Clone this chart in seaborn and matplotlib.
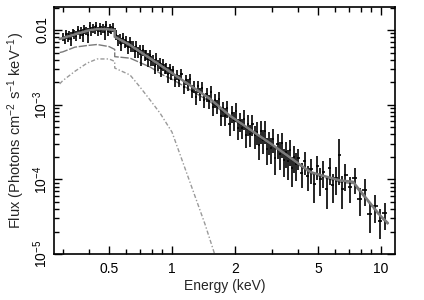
import numpy as np
import pandas as pd
import matplotlib
matplotlib.use("Agg")
import matplotlib.pyplot as plt
import seaborn as sns
from matplotlib.ticker import FixedLocator, FixedFormatter, NullFormatter

# observed spectrum, flux in units of 1e-4 photons cm^-2 s^-1 keV^-1
energy = [
    # soft band
    0.300, 0.306, 0.311, 0.317, 0.323, 0.329, 0.335, 0.341, 0.348, 0.354,
    0.361, 0.367, 0.374, 0.381, 0.388, 0.396, 0.403, 0.410, 0.418, 0.426,
    0.434, 0.442, 0.450, 0.458, 0.467, 0.476, 0.485, 0.494, 0.503, 0.512,
    0.522, 0.531, 0.541, 0.551, 0.562, 0.572, 0.583, 0.593, 0.605, 0.616,
    0.627, 0.639, 0.651, 0.663, 0.675, 0.688, 0.701, 0.714, 0.727, 0.740,
    0.754, 0.768, 0.782, 0.797, 0.812, 0.827, 0.842, 0.858, 0.874, 0.890,
    0.907, 0.923, 0.941, 0.958, 0.976, 0.994,
    # 1-4 keV
    1.013, 1.036, 1.060, 1.085, 1.110, 1.136, 1.163, 1.190, 1.217, 1.246,
    1.275, 1.304, 1.335, 1.366, 1.398, 1.430, 1.463, 1.497, 1.532, 1.568,
    1.604, 1.642, 1.680, 1.719, 1.759, 1.800, 1.842, 1.885, 1.929, 1.974,
    2.020, 2.067, 2.115, 2.164, 2.214, 2.266, 2.319, 2.373, 2.428, 2.484,
    2.542, 2.602, 2.662, 2.724, 2.787, 2.852, 2.919, 2.987, 3.056, 3.127,
    3.200, 3.275, 3.351, 3.429, 3.509, 3.591, 3.674, 3.760, 3.847, 3.937,
    # hard band
    4.03, 4.17, 4.32, 4.47, 4.63, 4.79, 4.96, 5.13, 5.31, 5.50,
    5.69, 5.89, 6.10, 6.31, 6.53, 6.76, 7.10, 7.50, 7.93, 8.38,
    8.86, 9.37, 9.90, 10.45,
]
flux = [
    81.9, 74.4, 87.7, 80.2, 84.8, 76.8, 91.8, 87.2, 84.2, 99.7,
    88.4, 96.2, 86.3, 102.8, 97.6, 86.3, 112.3, 96.1, 105.9, 100.7,
    112.6, 95.8, 109.2, 99.9, 106.1, 92.7, 115.4, 97.4, 106.1, 101.4,
    108.0, 94.3, 86.1, 73.7, 76.3, 64.8, 78.6, 66.8, 70.4, 60.0,
    68.6, 60.8, 61.1, 51.6, 60.9, 50.8, 54.8, 43.4, 54.0, 45.7,
    46.8, 40.5, 45.8, 39.0, 39.6, 33.4, 41.4, 34.3, 35.9, 30.0,
    34.5, 30.5, 30.7, 25.6, 30.6, 25.7,
    29.0, 21.3, 25.1, 21.1, 25.7, 17.1, 21.7, 18.5, 22.3, 15.4,
    17.4, 12.6, 17.6, 14.0, 16.9, 11.5, 13.8, 11.2, 14.8, 9.25,
    11.6, 9.59, 12.1, 7.16, 8.90, 7.14, 9.04, 5.46, 7.68, 6.17,
    8.16, 4.87, 6.10, 4.95, 6.48, 3.88, 5.49, 4.01, 5.60, 3.88,
    4.36, 2.86, 4.48, 3.36, 4.51, 2.56, 3.19, 2.61, 3.52, 1.95,
    3.00, 2.22, 3.04, 1.82, 2.30, 1.74, 2.47, 1.40, 2.00, 1.59,
    1.92, 1.22, 1.75, 1.11, 1.38, 0.87, 1.52, 1.00, 1.27, 0.75,
    1.40, 0.83, 1.04, 2.13, 0.75, 1.14, 0.79, 1.04, 0.54, 0.72,
    0.34, 0.44, 0.28, 0.35,
]
flux_err = [
    10, 10, 12, 10, 12, 16, 12, 12, 12, 13,
    12, 13, 17, 13, 13, 19, 15, 13, 15, 13,
    15, 13, 15, 13, 15, 19, 15, 13, 15, 13,
    15, 13, 13, 12, 12, 13, 13, 10, 12, 12,
    12, 10, 10, 10, 10, 9, 9, 10, 9, 7.5,
    7.5, 9, 7.5, 6.5, 6.5, 7.5, 7.5, 6, 6, 6.5,
    6, 5, 5, 6, 5, 4.5,
    4.4, 3.8, 4.0, 3.6, 4.1, 3.3, 3.6, 3.3, 3.8, 3.0,
    3.1, 2.8, 3.1, 2.8, 3.1, 2.5, 2.8, 2.4, 2.9, 2.1,
    2.5, 2.1, 2.6, 1.9, 2.1, 1.9, 2.3, 1.6, 2.0, 1.75,
    2.25, 1.5, 1.75, 1.5, 1.9, 1.25, 1.7, 1.3, 1.75, 1.3,
    1.45, 1.05, 1.5, 1.2, 1.5, 1.0, 1.1, 1.0, 1.25, 0.8,
    1.1, 0.9, 1.1, 0.75, 0.9, 0.75, 0.95, 0.62, 0.78, 0.65,
    0.6, 0.45, 0.6, 0.42, 0.5, 0.38, 0.55, 0.4, 0.5, 0.35,
    0.55, 0.35, 0.42, 1.3, 0.35, 0.45, 0.3, 0.4, 0.22, 0.28,
    0.15, 0.18, 0.12, 0.14,
]

# best-fit model and its two components (same units)
model_e = [0.29, 0.30, 0.35, 0.40, 0.44, 0.48, 0.532, 0.532, 0.63, 0.905,
           1.0, 1.52, 1.895, 3.0, 4.58, 5.1, 6.36, 7.35, 9.9, 10.8]
model_total = [76, 78, 89, 99, 103, 103, 100, 81, 63, 32,
               26.5, 12.0, 7.1, 2.95, 1.26, 1.15, 0.97, 0.93, 0.33, 0.26]

pl_e = [0.29, 0.30, 0.343, 0.392, 0.438, 0.50, 0.532, 0.532, 0.63, 0.785, 0.905,
        1.0, 1.52, 1.895, 3.0, 4.58, 5.1, 6.36, 7.35, 9.9, 10.8]
pl_flux = [50, 51, 59, 62, 64, 60, 55, 44, 42, 32, 25,
           22, 11.0, 6.7, 2.85, 1.22, 1.10, 0.92, 0.88, 0.32, 0.25]

bb_e = [0.29, 0.30, 0.343, 0.392, 0.438, 0.50, 0.532, 0.532, 0.63, 0.70,
        0.785, 0.877, 1.0, 1.09, 1.26, 1.44, 1.6, 1.7]
bb_flux = [19, 21, 28, 36, 41, 41, 38, 31, 25, 17.5,
           11.6, 7.7, 4.3, 2.2, 0.71, 0.25, 0.10, 0.05]

x_ticks = [0.5, 1, 2, 5, 10]
y_ticks = [1e-5, 1e-4, 1e-3, 1e-2]
y_labels = ["$10^{-5}$", "$10^{-4}$", "$10^{-3}$", "0.01"]

UNIT = 1e-4

sns.set_theme(style="ticks")
plt.rcParams["font.family"] = ["Liberation Sans", "DejaVu Sans"]
plt.rcParams["mathtext.fontset"] = "custom"
plt.rcParams["mathtext.rm"] = "Liberation Sans"
plt.rcParams["mathtext.it"] = "Liberation Sans:italic"

fig = plt.figure(figsize=(4.24, 3.0), dpi=100)
ax = fig.add_axes([0.127, 0.153, 0.805, 0.824])

e = np.array(energy)
f = np.array(flux) * UNIT
ferr = np.array(flux_err) * UNIT
# channel edges halfway (in log) between neighbouring channels
mid = np.sqrt(e[1:] * e[:-1])
lo = np.concatenate([[e[0] ** 2 / mid[0]], mid])
hi = np.concatenate([mid, [e[-1] ** 2 / mid[-1]]])

bb = pd.DataFrame({"E": bb_e, "F": np.array(bb_flux) * UNIT})
pl = pd.DataFrame({"E": pl_e, "F": np.array(pl_flux) * UNIT})
tot = pd.DataFrame({"E": model_e, "F": np.array(model_total) * UNIT})

sns.lineplot(data=bb, x="E", y="F", estimator=None, sort=False, ax=ax,
             color="#9a9a9a", lw=1.0, zorder=2)
ax.lines[-1].set_dashes([3, 1.5, 1, 1.5])
sns.lineplot(data=pl, x="E", y="F", estimator=None, sort=False, ax=ax,
             color="#7a7a7a", lw=1.0, zorder=2)
ax.lines[-1].set_dashes([6, 1.2])

ax.errorbar(e, f, yerr=ferr, xerr=[e - lo, hi - e], fmt="none",
            ecolor="black", elinewidth=1.2, capsize=0, zorder=3)

sns.lineplot(data=tot, x="E", y="F", estimator=None, sort=False, ax=ax,
             color="#7c7c7c", lw=1.8, zorder=4)

ax.set_xscale("log")
ax.set_yscale("log")
ax.set_xlim(0.272, 11.7)
ax.set_ylim(1e-5, 0.0204)

ax.xaxis.set_major_locator(FixedLocator(x_ticks))
ax.xaxis.set_major_formatter(FixedFormatter([f"{t:g}" for t in x_ticks]))
ax.xaxis.set_minor_locator(FixedLocator([0.3, 0.4, 0.6, 0.7, 0.8, 0.9, 3, 4, 6, 7, 8, 9]))
ax.xaxis.set_minor_formatter(NullFormatter())
ax.yaxis.set_major_locator(FixedLocator(y_ticks))
ax.yaxis.set_major_formatter(FixedFormatter(y_labels))

ax.tick_params(which="both", direction="in", top=True, right=True,
               width=1.0, colors="black", labelsize=10)
ax.tick_params(which="major", length=6)
ax.tick_params(which="minor", length=3.5)
ax.tick_params(axis="x", pad=6)
ax.tick_params(axis="y", pad=3, labelrotation=90)
for lab in ax.get_yticklabels():
    lab.set_va("center")

for s in ax.spines.values():
    s.set_linewidth(1.2)
    s.set_color("black")

ax.set_xlabel("Energy (keV)", fontsize=10, labelpad=2)
ax.set_ylabel("Flux (Photons cm$^{-2}$ s$^{-1}$ keV$^{-1}$)", fontsize=10.5, labelpad=3)

fig.savefig("out.png", dpi=100)
